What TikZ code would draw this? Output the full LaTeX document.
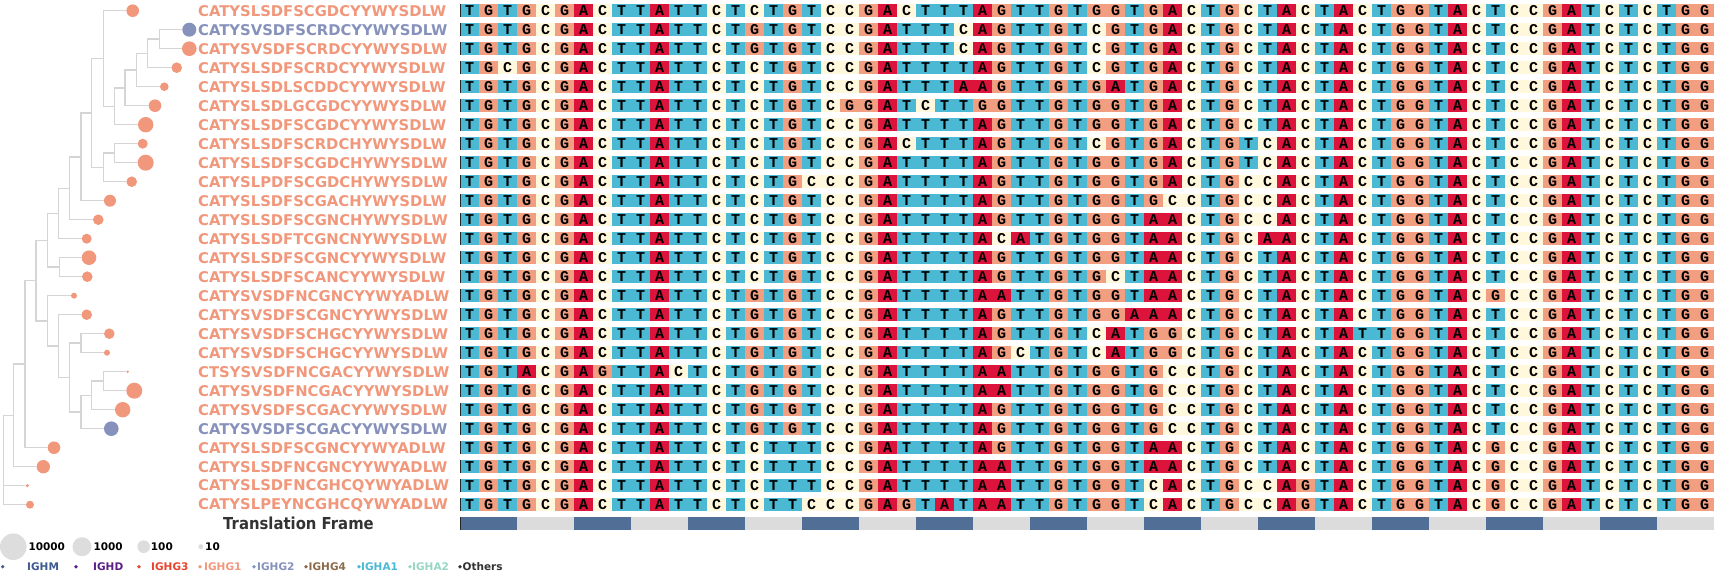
\documentclass[tikz,border=0pt]{standalone}
\usepackage{fontspec}
\newfontfamily\dvs{DejaVu Sans}
\newfontfamily\dvsc{DejaVu Sans}[FakeStretch=0.9]
\newfontfamily\lmono{Liberation Mono}
\definecolor{ntA}{HTML}{DC143C}
\definecolor{ntC}{HTML}{FFF8DC}
\definecolor{ntG}{HTML}{F29E80}
\definecolor{ntT}{HTML}{4BB8D4}
\definecolor{salm}{HTML}{F1977B}
\definecolor{bgr}{HTML}{8692BC}
\definecolor{treegray}{HTML}{D5D5D5}
\definecolor{tfdark}{HTML}{506E96}
\definecolor{tflight}{HTML}{DCDCDC}
\definecolor{legcirc}{HTML}{DDDDDD}
\definecolor{cIGHM}{HTML}{3E5A8E}
\definecolor{cIGHD}{HTML}{5B1F86}
\definecolor{cIGHGthree}{HTML}{E8452E}
\definecolor{cIGHGfour}{HTML}{8B6A4A}
\definecolor{cIGHAone}{HTML}{4BB8D4}
\definecolor{cIGHAtwo}{HTML}{97D6C5}
\definecolor{cOthers}{HTML}{333333}
\tikzset{
  tree/.style={draw=treegray, line width=1.5pt},
  leaf/.style={circle, inner sep=0pt, fill=salm},
  leafb/.style={circle, inner sep=0pt, fill=bgr},
  lab/.style={font=\dvs\bfseries\fontsize{14.8}{16}\selectfont, anchor=west, inner sep=0pt, text=salm},
  letter/.style={font=\lmono\bfseries\fontsize{15}{15}\selectfont, inner sep=0pt},
  rowedge/.style={draw=black!85, line width=1pt},
  legt/.style={font=\dvs\bfseries\fontsize{10.5}{12}\selectfont, anchor=west, inner sep=0pt},
  legc/.style={circle, inner sep=0pt, fill=legcirc},
  legdot/.style={circle, inner sep=0pt, minimum size=3.6pt},
  title/.style={font=\dvsc\bfseries\fontsize{16.5}{18}\selectfont, anchor=west, inner sep=0pt, text=black!80},
}
\makeatletter
\newcount\seqcol
\newcommand\drawseqrow[2]{%
  \pgfmathsetmacro\ry{10.7+19*#1}%
  \global\seqcol=0
  \@tfor\nt:=#2\do{%
    \edef\cellcol{nt\nt}%
    \fill[fill=\cellcol] ({460+19*\the\seqcol},{\ry-6.5}) rectangle ({479+19*\the\seqcol},{\ry+6.5});
    \node[letter] (s#1-\the\seqcol) at ({469.5+19*\the\seqcol},\ry) {\nt};
    \global\advance\seqcol by 1
  }%
  \draw[rowedge] (460.5,{\ry-6.5}) -- (460.5,{\ry+6.5});
}
\makeatother
\begin{document}
\begin{tikzpicture}[x=1pt,y=-1pt]
\useasboundingbox (0,0) rectangle (1714,573);
% ---------------- sequences
\drawseqrow{0}{TGTGCGACTTATTCTCTGTCCGACTTTAGTTGTGGTGACTGCTACTACTGGTACTCCGATCTCTGG}
\drawseqrow{1}{TGTGCGACTTATTCTGTGTCCGATTTCAGTTGTCGTGACTGCTACTACTGGTACTCCGATCTCTGG}
\drawseqrow{2}{TGTGCGACTTATTCTGTGTCCGATTTCAGTTGTCGTGACTGCTACTACTGGTACTCCGATCTCTGG}
\drawseqrow{3}{TGCGCGACTTATTCTCTGTCCGATTTTAGTTGTCGTGACTGCTACTACTGGTACTCCGATCTCTGG}
\drawseqrow{4}{TGTGCGACTTATTCTCTGTCCGATTTAAGTTGTGATGACTGCTACTACTGGTACTCCGATCTCTGG}
\drawseqrow{5}{TGTGCGACTTATTCTCTGTCGGATCTTGGTTGTGGTGACTGCTACTACTGGTACTCCGATCTCTGG}
\drawseqrow{6}{TGTGCGACTTATTCTCTGTCCGATTTTAGTTGTGGTGACTGCTACTACTGGTACTCCGATCTCTGG}
\drawseqrow{7}{TGTGCGACTTATTCTCTGTCCGACTTTAGTTGTCGTGACTGTCACTACTGGTACTCCGATCTCTGG}
\drawseqrow{8}{TGTGCGACTTATTCTCTGTCCGATTTTAGTTGTGGTGACTGTCACTACTGGTACTCCGATCTCTGG}
\drawseqrow{9}{TGTGCGACTTATTCTCTGCCCGATTTTAGTTGTGGTGACTGCCACTACTGGTACTCCGATCTCTGG}
\drawseqrow{10}{TGTGCGACTTATTCTCTGTCCGATTTTAGTTGTGGTGCCTGCCACTACTGGTACTCCGATCTCTGG}
\drawseqrow{11}{TGTGCGACTTATTCTCTGTCCGATTTTAGTTGTGGTAACTGCCACTACTGGTACTCCGATCTCTGG}
\drawseqrow{12}{TGTGCGACTTATTCTCTGTCCGATTTTACATGTGGTAACTGCAACTACTGGTACTCCGATCTCTGG}
\drawseqrow{13}{TGTGCGACTTATTCTCTGTCCGATTTTAGTTGTGGTAACTGCTACTACTGGTACTCCGATCTCTGG}
\drawseqrow{14}{TGTGCGACTTATTCTCTGTCCGATTTTAGTTGTGCTAACTGCTACTACTGGTACTCCGATCTCTGG}
\drawseqrow{15}{TGTGCGACTTATTCTGTGTCCGATTTTAATTGTGGTAACTGCTACTACTGGTACGCCGATCTCTGG}
\drawseqrow{16}{TGTGCGACTTATTCTGTGTCCGATTTTAGTTGTGGAAACTGCTACTACTGGTACTCCGATCTCTGG}
\drawseqrow{17}{TGTGCGACTTATTCTGTGTCCGATTTTAGTTGTCATGGCTGCTACTATTGGTACTCCGATCTCTGG}
\drawseqrow{18}{TGTGCGACTTATTCTGTGTCCGATTTTAGCTGTCATGGCTGCTACTACTGGTACTCCGATCTCTGG}
\drawseqrow{19}{TGTACGAGTTACTCTGTGTCCGATTTTAATTGTGGTGCCTGCTACTACTGGTACTCCGATCTCTGG}
\drawseqrow{20}{TGTGCGACTTATTCTGTGTCCGATTTTAATTGTGGTGCCTGCTACTACTGGTACTCCGATCTCTGG}
\drawseqrow{21}{TGTGCGACTTATTCTGTGTCCGATTTTAGTTGTGGTGCCTGCTACTACTGGTACTCCGATCTCTGG}
\drawseqrow{22}{TGTGCGACTTATTCTGTGTCCGATTTTAGTTGTGGTGCCTGCTACTACTGGTACTCCGATCTCTGG}
\drawseqrow{23}{TGTGCGACTTATTCTCTTTCCGATTTTAGTTGTGGTAACTGCTACTACTGGTACGCCGATCTCTGG}
\drawseqrow{24}{TGTGCGACTTATTCTCTTTCCGATTTTAATTGTGGTAACTGCTACTACTGGTACGCCGATCTCTGG}
\drawseqrow{25}{TGTGCGACTTATTCTCTTTCCGATTTTAATTGTGGTCACTGCCAGTACTGGTACGCCGATCTCTGG}
\drawseqrow{26}{TGTGCGACTTATTCTCTTCCCGAGTATAATTGTGGTCACTGCCAGTACTGGTACGCCGATCTCTGG}
% ---------------- translation frame
\foreach \i in {0,...,65}{
  \pgfmathtruncatemacro\g{mod(floor(\i/3),2)}
  \ifnum\g=0 \def\tfc{tfdark}\else\def\tfc{tflight}\fi
  \fill[fill=\tfc] ({460+19*\i},517.2) rectangle ({479+19*\i},530.2);
}
\draw[rowedge] (460.5,517.2) -- (460.5,530.2);
\node[title] (tf) at (223,523.7) {Translation Frame};
% ---------------- labels
\node[lab] (l1) at (198,10.7) {CATYSLSDFSCGDCYYWYSDLW};
\node[lab,text=bgr] (l2) at (198,29.7) {CATYSVSDFSCRDCYYWYSDLW};
\node[lab] (l3) at (198,48.7) {CATYSVSDFSCRDCYYWYSDLW};
\node[lab] (l4) at (198,67.7) {CATYSLSDFSCRDCYYWYSDLW};
\node[lab] (l5) at (198,86.7) {CATYSLSDLSCDDCYYWYSDLW};
\node[lab] (l6) at (198,105.7) {CATYSLSDLGCGDCYYWYSDLW};
\node[lab] (l7) at (198,124.7) {CATYSLSDFSCGDCYYWYSDLW};
\node[lab] (l8) at (198,143.7) {CATYSLSDFSCRDCHYWYSDLW};
\node[lab] (l9) at (198,162.7) {CATYSLSDFSCGDCHYWYSDLW};
\node[lab] (l10) at (198,181.7) {CATYSLPDFSCGDCHYWYSDLW};
\node[lab] (l11) at (198,200.7) {CATYSLSDFSCGACHYWYSDLW};
\node[lab] (l12) at (198,219.7) {CATYSLSDFSCGNCHYWYSDLW};
\node[lab] (l13) at (198,238.7) {CATYSLSDFTCGNCNYWYSDLW};
\node[lab] (l14) at (198,257.7) {CATYSLSDFSCGNCYYWYSDLW};
\node[lab] (l15) at (198,276.7) {CATYSLSDFSCANCYYWYSDLW};
\node[lab] (l16) at (198,295.7) {CATYSVSDFNCGNCYYWYADLW};
\node[lab] (l17) at (198,314.7) {CATYSVSDFSCGNCYYWYSDLW};
\node[lab] (l18) at (198,333.7) {CATYSVSDFSCHGCYYWYSDLW};
\node[lab] (l19) at (198,352.7) {CATYSVSDFSCHGCYYWYSDLW};
\node[lab] (l20) at (198,371.7) {CTSYSVSDFNCGACYYWYSDLW};
\node[lab] (l21) at (198,390.7) {CATYSVSDFNCGACYYWYSDLW};
\node[lab] (l22) at (198,409.7) {CATYSVSDFSCGACYYWYSDLW};
\node[lab,text=bgr] (l23) at (198,428.7) {CATYSVSDFSCGACYYWYSDLW};
\node[lab] (l24) at (198,447.7) {CATYSLSDFSCGNCYYWYADLW};
\node[lab] (l25) at (198,466.7) {CATYSLSDFNCGNCYYWYADLW};
\node[lab] (l26) at (198,485.7) {CATYSLSDFNCGHCQYWYADLW};
\node[lab] (l27) at (198,504.7) {CATYSLPEYNCGHCQYWYADLW};
% ---------------- tree internal nodes
\coordinate (Na) at (159.3,39.2);
\coordinate (Nb) at (147.7,53.45);
\coordinate (Nc) at (136.7,70.1);
\coordinate (Nd) at (125,87.9);
\coordinate (Ne) at (114.3,106.3);
\coordinate (Nf) at (103.3,58.5);
\coordinate (Ng) at (114.3,153.2);
\coordinate (Nh) at (103.3,167.45);
\coordinate (Ni) at (91.7,113);
\coordinate (Nj) at (81,156.85);
\coordinate (Nk) at (69.3,188.3);
\coordinate (Nl) at (58.3,213.5);
\coordinate (Nm) at (59.3,267.2);
\coordinate (Nn) at (47.7,240.35);
\coordinate (No) at (81,343.2);
\coordinate (Np) at (103.3,381.2);
\coordinate (Nq) at (91.7,395.45);
\coordinate (Nr) at (81,412.1);
\coordinate (Ns) at (69.3,377.6);
\coordinate (Nt) at (58.3,346.2);
\coordinate (Nu) at (47.7,320.95);
\coordinate (Nv) at (36,280.65);
\coordinate (Nw) at (25,364.2);
\coordinate (Nx) at (13.3,415.45);
\coordinate (Ny) at (3.3,460);
% leaves
\node[leaf,minimum size=12.6pt] (c1) at (132.7,10.7) {};
\node[leafb,minimum size=14pt] (c2) at (189.3,29.7) {};
\node[leaf,minimum size=14.6pt] (c3) at (189.3,48.7) {};
\node[leaf,minimum size=10.6pt] (c4) at (176.7,67.7) {};
\node[leaf,minimum size=8.6pt] (c5) at (164.3,86.7) {};
\node[leaf,minimum size=12.6pt] (c6) at (155,105.7) {};
\node[leaf,minimum size=15.4pt] (c7) at (145.7,124.7) {};
\node[leaf,minimum size=10pt] (c8) at (142.7,143.7) {};
\node[leaf,minimum size=16pt] (c9) at (145.7,162.7) {};
\node[leaf,minimum size=10.6pt] (c10) at (131.7,181.7) {};
\node[leaf,minimum size=12pt] (c11) at (110,200.7) {};
\node[leaf,minimum size=10.6pt] (c12) at (98.3,219.7) {};
\node[leaf,minimum size=10pt] (c13) at (86.7,238.7) {};
\node[leaf,minimum size=14.6pt] (c14) at (89,257.7) {};
\node[leaf,minimum size=10.6pt] (c15) at (87.3,276.7) {};
\node[leaf,minimum size=6pt] (c16) at (74,295.7) {};
\node[leaf,minimum size=10.6pt] (c17) at (86.7,314.7) {};
\node[leaf,minimum size=10.6pt] (c18) at (109.3,333.7) {};
\node[leaf,minimum size=6pt] (c19) at (107,352.7) {};
\node[leaf,minimum size=2.6pt] (c20) at (127.7,371.7) {};
\node[leaf,minimum size=16pt] (c21) at (134.3,390.7) {};
\node[leaf,minimum size=15.4pt] (c22) at (122.7,409.7) {};
\node[leafb,minimum size=14.6pt] (c23) at (111.3,428.7) {};
\node[leaf,minimum size=12.6pt] (c24) at (54,447.7) {};
\node[leaf,minimum size=13.4pt] (c25) at (43.3,466.7) {};
\node[leaf,minimum size=3.4pt] (c26) at (27.3,485.7) {};
\node[leaf,minimum size=8pt] (c27) at (30,504.7) {};
% branches
\draw[tree] (Na) |- (c2.west);  \draw[tree] (Na) |- (c3.west);
\draw[tree] (Nb) |- (Na);       \draw[tree] (Nb) |- (c4.west);
\draw[tree] (Nc) |- (Nb);       \draw[tree] (Nc) |- (c5.west);
\draw[tree] (Nd) |- (Nc);       \draw[tree] (Nd) |- (c6.west);
\draw[tree] (Ne) |- (Nd);       \draw[tree] (Ne) |- (c7.west);
\draw[tree] (Nf) |- (c1.west);  \draw[tree] (Nf) |- (Ne);
\draw[tree] (Ng) |- (c8.west);  \draw[tree] (Ng) |- (c9.west);
\draw[tree] (Nh) |- (Ng);       \draw[tree] (Nh) |- (c10.west);
\draw[tree] (Ni) |- (Nf);       \draw[tree] (Ni) |- (Nh);
\draw[tree] (Nj) |- (Ni);       \draw[tree] (Nj) |- (c11.west);
\draw[tree] (Nk) |- (Nj);       \draw[tree] (Nk) |- (c12.west);
\draw[tree] (Nl) |- (Nk);       \draw[tree] (Nl) |- (c13.west);
\draw[tree] (Nm) |- (c14.west); \draw[tree] (Nm) |- (c15.west);
\draw[tree] (Nn) |- (Nl);       \draw[tree] (Nn) |- (Nm);
\draw[tree] (No) |- (c18.west); \draw[tree] (No) |- (c19.west);
\draw[tree] (Np) |- (c20.west); \draw[tree] (Np) |- (c21.west);
\draw[tree] (Nq) |- (Np);       \draw[tree] (Nq) |- (c22.west);
\draw[tree] (Nr) |- (Nq);       \draw[tree] (Nr) |- (c23.west);
\draw[tree] (Ns) |- (No);       \draw[tree] (Ns) |- (Nr);
\draw[tree] (Nt) |- (c17.west); \draw[tree] (Nt) |- (Ns);
\draw[tree] (Nu) |- (c16.west); \draw[tree] (Nu) |- (Nt);
\draw[tree] (Nv) |- (Nn);       \draw[tree] (Nv) |- (Nu);
\draw[tree] (Nw) |- (Nv);       \draw[tree] (Nw) |- (c24.west);
\draw[tree] (Nx) |- (Nw);       \draw[tree] (Nx) |- (c25.west);
\draw[tree] (Ny) |- (Nx);       \draw[tree] (Ny) |- (c26.west); \draw[tree] (Ny) |- (c27.west);
% ---------------- legend sizes
\node[legc,minimum size=26.6pt] (g1) at (13.3,546.7) {};
\node[legt] (gt1) at (28.3,546.7) {10000};
\node[legc,minimum size=19pt] (g2) at (82,546.7) {};
\node[legt] (gt2) at (93.3,546.7) {1000};
\node[legc,minimum size=12.6pt] (g3) at (143.7,546.7) {};
\node[legt] (gt3) at (150.7,546.7) {100};
\node[legc,minimum size=5pt] (g4) at (200.8,546.7) {};
\node[legt] (gt4) at (205,546.7) {10};
% ---------------- legend isotypes
\node[legdot,fill=cIGHM] (d1) at (2.7,566.7) {};
\node[legt,text=cIGHM] (i1) at (27,566.7) {IGHM};
\node[legdot,fill=cIGHD] (d2) at (76,566.7) {};
\node[legt,text=cIGHD] (i2) at (93,566.7) {IGHD};
\node[legdot,fill=cIGHGthree] (d3) at (139,566.7) {};
\node[legt,text=cIGHGthree] (i3) at (151,566.7) {IGHG3};
\node[legdot,fill=salm] (d4) at (200,566.7) {};
\node[legt,text=salm] (i4) at (204,566.7) {IGHG1};
\node[legdot,fill=bgr] (d5) at (254,566.7) {};
\node[legt,text=bgr] (i5) at (257,566.7) {IGHG2};
\node[legdot,fill=cIGHGfour] (d6) at (306,566.7) {};
\node[legt,text=cIGHGfour] (i6) at (308.5,566.7) {IGHG4};
\node[legdot,fill=cIGHAone] (d7) at (359,566.7) {};
\node[legt,text=cIGHAone] (i7) at (361,566.7) {IGHA1};
\node[legdot,fill=cIGHAtwo] (d8) at (410,566.7) {};
\node[legt,text=cIGHAtwo] (i8) at (412,566.7) {IGHA2};
\node[legdot,fill=cOthers] (d9) at (460,566.7) {};
\node[legt,text=cOthers] (i9) at (462.5,566.7) {Others};
\end{tikzpicture}
\end{document}
